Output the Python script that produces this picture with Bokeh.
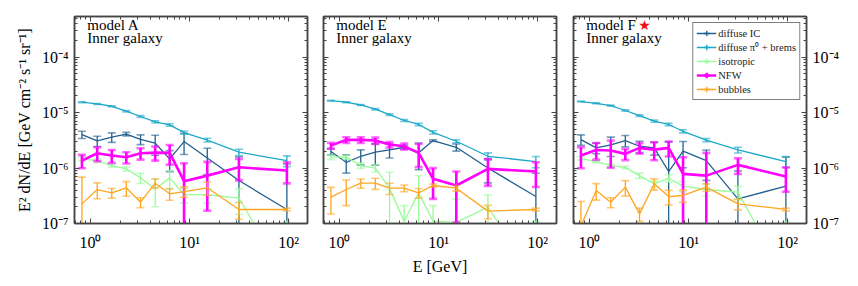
import numpy as np
from bokeh.plotting import figure
from bokeh.models import (LogAxis, LogTicker, CustomJSTickFormatter, Range1d, Label,
                          Legend, LegendItem, ColumnDataSource)
from bokeh.layouts import row
from bokeh.embed import file_html
from bokeh.resources import INLINE

# ---------------- data ----------------
energy = [0.82, 1.17, 1.64, 2.3, 3.2, 4.5, 6.3, 8.8, 15.1, 31.5, 96.0]

series_names = ["diffuse IC", "diffuse \u03c0\u2070 + brems", "isotropic", "NFW", "bubbles"]

# model A
A_ic = [4.0e-6, 3.1e-6, 3.6e-6, 4.1e-6, 3.3e-6, 2.8e-6, 1.46e-6, 3.0e-6, 1.52e-6, 5.95e-7, 1.79e-7]
A_ic_err = [0.6e-6, 0.65e-6, 0.7e-6, 0.3e-6, 0.66e-6, 1.1e-6, 0.6e-6, 1.25e-6, 0.76e-6, 1.0e-6, 1.0e-6]
A_pi = [1.54e-5, 1.43e-5, 1.30e-5, 1.06e-5, 8.5e-6, 6.8e-6, 6.0e-6, 4.36e-6, 3.2e-6, 1.93e-6, 1.36e-6]
A_pi_err = [0.3e-6, 0.3e-6, 0.3e-6, 0.3e-6, 0.3e-6, 0.3e-6, 0.3e-6, 0.3e-6, 0.25e-6, 0.25e-6, 0.3e-6]
A_iso = [1.46e-6, 1.36e-6, 1.11e-6, 9.7e-7, 6.65e-7, 4.2e-7, 6.65e-7, 3.33e-7, 3.33e-7, 2.86e-7, 1.0e-8]
A_iso_err = [0.1e-6, 0.1e-6, 0.08e-6, 0.08e-6, 0.14e-6, 0.22e-6, 0.24e-6, 0.1e-6, 0.1e-6, 0.14e-6, 0.1e-6]
A_nfw = [1.36e-6, 1.85e-6, 1.68e-6, 1.57e-6, 1.85e-6, 1.90e-6, 1.88e-6, 5.8e-7, 7.3e-7, 1.03e-6, 9.0e-7]
A_nfw_err = [0.37e-6, 0.52e-6, 0.44e-6, 0.36e-6, 0.43e-6, 0.54e-6, 0.73e-6, 0.64e-6, 0.56e-6, 0.43e-6, 0.37e-6]
A_bub = [2.26e-7, 4.1e-7, 3.57e-7, 4.4e-7, 2.42e-7, 5.33e-7, 3.43e-7, 3.77e-7, 4.4e-7, 1.79e-7, 1.79e-7]
A_bub_err = [0.46e-6, 0.13e-6, 0.07e-6, 0.13e-6, 0.05e-6, 0.1e-6, 0.08e-6, 0.08e-6, 0.12e-6, 0.06e-6, 0.01e-6]

# model E
E_ic = [1.98e-6, 1.27e-6, 1.63e-6, 1.93e-6, 2.12e-6, 2.37e-6, 1.88e-6, 3.13e-6, 2.37e-6, 1.0e-6, 3.07e-7]
E_ic_err = [0.25e-6, 0.46e-6, 0.5e-6, 0.8e-6, 0.6e-6, 0.2e-6, 0.95e-6, 0.1e-6, 0.35e-6, 0.46e-6, 0.5e-6]
E_pi = [1.64e-5, 1.54e-5, 1.37e-5, 1.15e-5, 9.2e-6, 7.2e-6, 6.1e-6, 4.4e-6, 3.04e-6, 1.63e-6, 1.31e-6]
E_pi_err = [0.3e-6, 0.3e-6, 0.3e-6, 0.3e-6, 0.3e-6, 0.3e-6, 0.3e-6, 0.3e-6, 0.2e-6, 0.25e-6, 0.3e-6]
E_iso = [1.57e-6, 1.57e-6, 1.11e-6, 1.0e-6, 4.3e-7, 1.1e-7, 3.57e-7, 1.1e-7, 1.05e-7, 1.97e-7, 1.0e-8]
E_iso_err = [0.15e-6, 0.12e-6, 0.12e-6, 0.15e-6, 0.41e-6, 0.1e-6, 0.37e-6, 0.1e-6, 0.17e-6, 0.13e-6, 0.1e-6]
E_nfw = [2.54e-6, 3.22e-6, 3.22e-6, 3.13e-6, 2.65e-6, 2.47e-6, 1.88e-6, 6.38e-7, 4.84e-7, 9.66e-7, 8.65e-7]
E_nfw_err = [0.3e-6, 0.38e-6, 0.38e-6, 0.4e-6, 0.3e-6, 0.3e-6, 0.84e-6, 0.36e-6, 0.38e-6, 0.49e-6, 0.41e-6]
E_bub = [2.98e-7, 4.1e-7, 5.33e-7, 5.33e-7, 4.33e-7, 4.33e-7, 3.57e-7, 4.84e-7, 4.33e-7, 1.67e-7, 1.79e-7]
E_bub_err = [0.15e-6, 0.2e-6, 0.1e-6, 0.12e-6, 0.1e-6, 0.06e-6, 0.07e-6, 0.03e-6, 0.05e-6, 0.045e-6, 0.01e-6]

# model F
F_ic = [3.26e-6, 2.31e-6, 2.61e-6, 3.13e-6, 2.47e-6, 2.31e-6, 8.65e-7, 2.01e-6, 1.36e-6, 2.78e-7, 4.71e-7]
F_ic_err = [0.7e-6, 0.5e-6, 1.0e-6, 0.72e-6, 0.57e-6, 0.6e-6, 2.1e-6, 1.0e-6, 0.76e-6, 0.6e-6, 1.1e-6]
F_pi = [1.58e-5, 1.47e-5, 1.34e-5, 1.09e-5, 8.8e-6, 7.0e-6, 6.1e-6, 4.6e-6, 3.2e-6, 2.12e-6, 1.31e-6]
F_pi_err = [0.3e-6, 0.3e-6, 0.3e-6, 0.3e-6, 0.3e-6, 0.3e-6, 0.3e-6, 0.3e-6, 0.2e-6, 0.25e-6, 0.3e-6]
F_iso = [1.5e-6, 1.31e-6, 1.11e-6, 1.03e-6, 7.3e-7, 5.19e-7, 6.56e-7, 4.71e-7, 4.1e-7, 3.67e-7, 1.0e-8]
F_iso_err = [0.1e-6, 0.06e-6, 0.06e-6, 0.06e-6, 0.08e-6, 0.06e-6, 0.1e-6, 0.1e-6, 0.1e-6, 0.1e-6, 0.1e-6]
F_nfw = [1.68e-6, 2.12e-6, 2.07e-6, 1.8e-6, 2.31e-6, 2.15e-6, 2.31e-6, 7.85e-7, 7.3e-7, 1.14e-6, 7.03e-7]
F_nfw_err = [0.69e-6, 0.7e-6, 1.06e-6, 0.41e-6, 0.5e-6, 0.77e-6, 0.7e-6, 0.78e-6, 1.15e-6, 0.36e-6, 0.33e-6]
F_bub = [9.0e-8, 3.94e-7, 2.42e-7, 4.52e-7, 1.49e-7, 5.19e-7, 3.06e-7, 3.2e-7, 4.52e-7, 2.26e-7, 1.79e-7]
F_bub_err = [1.6e-7, 0.13e-6, 0.05e-6, 0.14e-6, 0.04e-6, 0.12e-6, 0.09e-6, 0.08e-6, 0.07e-6, 0.05e-6, 0.01e-6]

# ---------------- style ----------------
FONT = "Liberation Serif"
COLORS = ["#23608f", "#1ca8c8", "#98fb98", "#ff00ff", "#ffa51f"]
WIDTHS = [1.3, 1.3, 1.3, 2.6, 1.3]
FRAME_COL = "#444444"

SUP_JS = """
const sup = {'-':'\u207b','0':'\u2070','1':'\u00b9','2':'\u00b2','3':'\u00b3','4':'\u2074',
             '5':'\u2075','6':'\u2076','7':'\u2077','8':'\u2078','9':'\u2079'};
const e = Math.round(Math.log10(tick));
return '10' + String(e).split('').map(c => sup[c]).join('');
"""


def style_axis(ax, show_labels, standoff=7):
    ax.ticker = LogTicker(num_minor_ticks=10)
    ax.major_tick_in = 5
    ax.major_tick_out = 0
    ax.minor_tick_in = 3
    ax.minor_tick_out = 0
    ax.axis_line_color = FRAME_COL
    ax.axis_line_width = 1.5
    ax.major_tick_line_color = FRAME_COL
    ax.minor_tick_line_color = FRAME_COL
    ax.major_label_text_font = FONT
    ax.major_label_text_font_size = "16px"
    ax.major_label_text_color = "black"
    ax.axis_label_text_font = FONT
    ax.axis_label_text_font_size = "16px"
    ax.axis_label_text_font_style = "normal"
    ax.axis_label_text_color = "black"
    if show_labels:
        ax.formatter = CustomJSTickFormatter(code=SUP_JS)
        ax.major_label_standoff = standoff
    else:
        ax.formatter = CustomJSTickFormatter(code="return ''")
        ax.major_label_standoff = 0


def make_panel(name, data, ylabel_side, width, border_left, border_right,
               show_ylabels, ylabel=None, xlabel=None, legend=False, star=False):
    p = figure(width=width, height=278, x_axis_type="log", y_axis_type="log",
               x_range=Range1d(0.69, 155), y_range=Range1d(1e-7, 5.4e-4),
               y_axis_location=ylabel_side,
               min_border_left=border_left, min_border_right=border_right,
               min_border_top=16, min_border_bottom=55,
               output_backend="svg", toolbar_location=None)
    p.grid.visible = False
    p.outline_line_color = FRAME_COL
    p.outline_line_width = 1.5
    p.background_fill_color = "white"
    p.border_fill_color = "white"

    style_axis(p.xaxis[0], True, standoff=10)
    style_axis(p.yaxis[0], show_ylabels, standoff=6)
    if ylabel:
        p.yaxis[0].axis_label = ylabel
        p.yaxis[0].axis_label_standoff = 6
    if xlabel:
        p.xaxis[0].axis_label = xlabel
        p.xaxis[0].axis_label_standoff = 4

    top = LogAxis()
    style_axis(top, False)
    p.add_layout(top, "above")
    other = LogAxis()
    style_axis(other, False)
    p.add_layout(other, "left" if ylabel_side == "right" else "right")

    items = []
    for (vals, errs), name_s, col, lw in zip(data, series_names, COLORS, WIDTHS):
        v = np.array(vals)
        e = np.array(errs)
        lo = v - e
        hi = v + e
        lo_plot = np.where(lo > 0, lo, 1e-12)
        src = ColumnDataSource(dict(x=energy, y=v, lo=lo_plot, hi=hi))
        lr = p.line("x", "y", source=src, line_color=col, line_width=lw)
        p.segment(x0="x", y0="lo", x1="x", y1="hi", source=src, line_color=col, line_width=lw)
        p.scatter("x", "hi", source=src, marker="dash", size=8, line_color=col,
                  line_width=max(lw, 1.6), line_alpha=0.6)
        p.scatter("x", "lo", source=src, marker="dash", size=8, line_color=col,
                  line_width=max(lw, 1.6), line_alpha=0.6)
        cr = p.scatter("x", "y", source=src, marker="cross", size=12, line_color=col,
                       line_width=lw, visible=False)
        items.append(LegendItem(label=name_s, renderers=[lr, cr]))

    p.add_layout(Label(x=0.93, y=2.72e-4, text=name, text_font=FONT,
                       text_font_size="15px", text_color="black"))
    p.add_layout(Label(x=0.93, y=1.57e-4, text="Inner galaxy", text_font=FONT,
                       text_font_size="15px", text_color="black"))
    if star:
        p.add_layout(Label(x=3.6, y=2.72e-4, text="\u2605", text_font="DejaVu Sans",
                           text_font_size="14px", text_color="#ee1111", text_align="center"))
    if legend:
        lg = Legend(items=items, location="top_right",
                    label_text_font=FONT, label_text_font_size="10.5px",
                    label_text_color="#222222",
                    border_line_color="black", border_line_width=1,
                    background_fill_color="white", background_fill_alpha=1,
                    padding=3, spacing=0, margin=6, glyph_width=20, glyph_height=14,
                    label_height=14, label_standoff=2)
        p.add_layout(lg)
    return p


pA = make_panel("model A", list(zip([A_ic, A_pi, A_iso, A_nfw, A_bub],
                                     [A_ic_err, A_pi_err, A_iso_err, A_nfw_err, A_bub_err])),
                "left", 315, 74, 8, True,
                ylabel="E\u00b2 dN/dE [GeV cm\u207b\u00b2 s\u207b\u00b9 sr\u207b\u00b9]")
pE = make_panel("model E", list(zip([E_ic, E_pi, E_iso, E_nfw, E_bub],
                                     [E_ic_err, E_pi_err, E_iso_err, E_nfw_err, E_bub_err])),
                "left", 250, 8, 9, False, xlabel="E [GeV]")
pF = make_panel("model F", list(zip([F_ic, F_pi, F_iso, F_nfw, F_bub],
                                     [F_ic_err, F_pi_err, F_iso_err, F_nfw_err, F_bub_err])),
                "right", 285, 8, 44, True, legend=True, star=True)

layout = row(pA, pE, pF)
open("out.html", "w").write(file_html(layout, INLINE))
